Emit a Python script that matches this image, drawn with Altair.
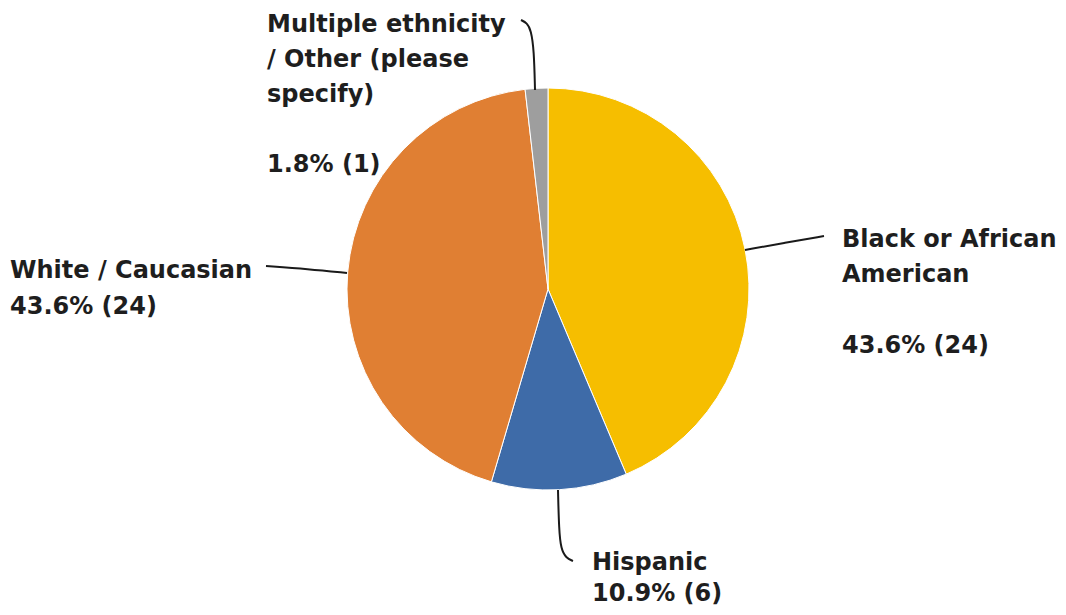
import altair as alt
import pandas as pd

categories = ["Black or African American", "Hispanic", "White / Caucasian", "Multiple ethnicity / Other (please specify)"]
counts = [24, 6, 24, 1]
percents = [43.6, 10.9, 43.6, 1.8]
colors = ["#F6BE00", "#3E6BA8", "#E07F33", "#9E9E9E"]

name_lines = [
    ["Black or African", "American"],
    ["Hispanic"],
    ["White / Caucasian"],
    ["Multiple ethnicity", "/ Other (please", "specify)"],
]
# label anchors (plot coords, first baseline)
label_x = [834, 584, 2, 259]
name_y = [239, 562, 270, 24]
value_y = [345, 593, 306, 164]

# leader line paths (plot coords)
leaders = [
    [(737, 242), (776, 235), (816, 228)],
    [(550, 482), (551, 522), (553, 541), (558, 550), (565, 553)],
    [(258, 258), (300, 261), (339, 265)],
    [(527, 82), (526, 42), (523, 22), (519, 15), (513, 12)],
]

W, H = 1050, 599
CX, CY, R = 540, 281, 201

pie_df = pd.DataFrame({"category": categories, "count": counts, "order": list(range(len(categories)))})

label_df = pd.DataFrame({
    "category": categories,
    "name": name_lines,
    "value": [f"{p}% ({c})" for p, c in zip(percents, counts)],
    "x": label_x,
    "ny": name_y,
    "vy": value_y,
})

rows = []
for i, path in enumerate(leaders):
    for j, (px, py) in enumerate(path):
        rows.append({"id": i, "k": j, "x": px, "y": py})
lead_df = pd.DataFrame(rows)

xs = alt.Scale(domain=[0, W], range=[0, W])
ys = alt.Scale(domain=[0, H], range=[0, H])

pie = alt.Chart(pie_df).mark_arc(radius=R, stroke="white", strokeWidth=1).encode(
    theta=alt.Theta("count:Q", stack=True),
    order=alt.Order("order:Q"),
    color=alt.Color("category:N", scale=alt.Scale(domain=categories, range=colors), legend=None),
    x=alt.value(CX),
    y=alt.value(CY),
)

lines = alt.Chart(lead_df).mark_line(color="#1a1a1a", strokeWidth=2, interpolate="basis").encode(
    x=alt.X("x:Q", scale=xs, axis=None),
    y=alt.Y("y:Q", scale=ys, axis=None),
    detail="id:N",
    order="k:Q",
)

tstyle = dict(align="left", baseline="alphabetic", font="DejaVu Sans", fontWeight="bold",
              fontSize=24, lineHeight=35, color="#1e1e1e")

names = alt.Chart(label_df).mark_text(**tstyle).encode(
    x=alt.X("x:Q", scale=xs, axis=None),
    y=alt.Y("ny:Q", scale=ys, axis=None),
    text="name",
)
values = alt.Chart(label_df).mark_text(**tstyle).encode(
    x=alt.X("x:Q", scale=xs, axis=None),
    y=alt.Y("vy:Q", scale=ys, axis=None),
    text="value:N",
)

chart = alt.layer(pie, lines, names, values).properties(
    width=W, height=H, padding=0, autosize="none"
).configure_view(stroke=None)

chart.save("out.html", embed_options={"renderer": "svg", "actions": False})
